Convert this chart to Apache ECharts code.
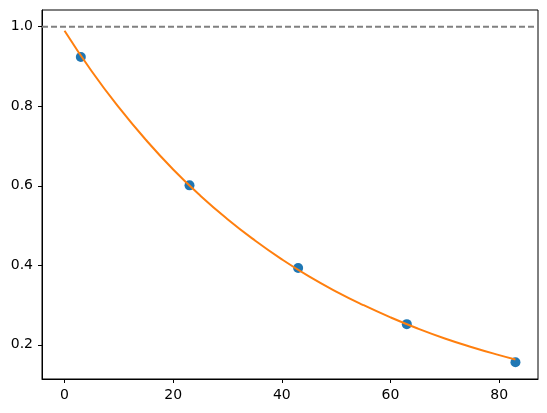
<!DOCTYPE html>
<html>
<head>
<meta charset="utf-8">
<script src="https://cdn.jsdelivr.net/npm/echarts@6/dist/echarts.min.js"></script>
<style>html,body{margin:0;padding:0;background:#fff;}#c{width:547px;height:413px;}</style>
</head>
<body>
<div id="c"></div>
<script>
// Measured points
const pointX = [3, 23, 43, 63, 83];
const pointY = [0.924, 0.601, 0.393, 0.252, 0.156];
// Fitted curve
const curveX = [0, 5, 10, 15, 20, 25, 30, 35, 40, 45, 50, 55, 60, 65, 70, 75, 80, 83];
const curveY = [0.990, 0.888, 0.797, 0.715, 0.641, 0.575, 0.516, 0.463, 0.415, 0.372, 0.334, 0.300, 0.269, 0.241, 0.216, 0.194, 0.174, 0.163];
// Reference level
const refLevel = 1.0;
// Tick labels
const xTicks = [0, 20, 40, 60, 80];
const yTicks = [0.2, 0.4, 0.6, 0.8, 1.0];

const xMin = -4.15, xMax = 87.15;
const chart = echarts.init(document.getElementById('c'), null, {renderer: 'canvas'});
const font = '"DejaVu Sans", sans-serif';
const tickCommon = {show: true, inside: false, length: 4, lineStyle: {color: '#000', width: 1}};
chart.setOption({
  animation: false,
  backgroundColor: '#fff',
  grid: {left: 42, right: 9, top: 10, bottom: 34, show: true, borderColor: '#000', borderWidth: 1, backgroundColor: 'transparent'},
  xAxis: {
    type: 'value', min: xMin, max: xMax,
    splitLine: {show: false},
    axisLine: {show: true, onZero: false, lineStyle: {color: '#000', width: 1}},
    axisTick: Object.assign({customValues: xTicks}, tickCommon),
    axisLabel: {customValues: xTicks, margin: 9, color: '#000', fontFamily: font, fontSize: 14, formatter: v => String(Math.round(v))}
  },
  yAxis: {
    type: 'value', min: 0.114, max: 1.042,
    splitLine: {show: false},
    axisLine: {show: true, onZero: false, lineStyle: {color: '#000', width: 1}},
    axisTick: Object.assign({customValues: yTicks}, tickCommon),
    axisLabel: {customValues: yTicks, margin: 9, color: '#000', fontFamily: font, fontSize: 14, formatter: v => v.toFixed(1)}
  },
  series: [
    {
      type: 'line', z: 1,
      data: [[xMin, refLevel], [xMax, refLevel]],
      showSymbol: false, silent: true,
      lineStyle: {color: '#808080', width: 2, type: [6, 3]},
      itemStyle: {color: '#808080'}
    },
    {
      type: 'scatter', z: 2,
      data: pointX.map((x, i) => [x, pointY[i]]),
      symbol: 'circle', symbolSize: 10,
      itemStyle: {color: '#1f77b4', opacity: 1}
    },
    {
      type: 'line', z: 3,
      data: curveX.map((x, i) => [x, curveY[i]]),
      showSymbol: false, smooth: true,
      lineStyle: {color: '#ff7f0e', width: 2},
      itemStyle: {color: '#ff7f0e'}
    }
  ]
});
</script>
</body>
</html>
